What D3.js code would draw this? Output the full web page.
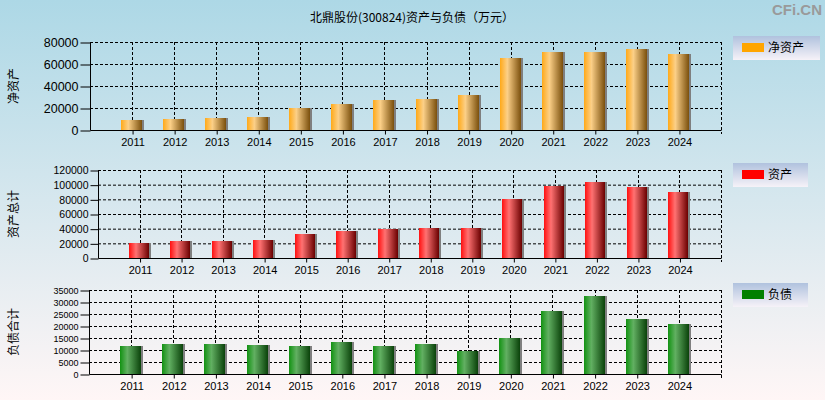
<!DOCTYPE html>
<html><head><meta charset="utf-8">
<script src="https://cdn.jsdelivr.net/npm/d3@7"></script>
<style>html,body{margin:0;padding:0;}svg{display:block;}</style>
</head><body>
<script>
const years = ['2011','2012','2013','2014','2015','2016','2017','2018','2019','2020','2021','2022','2023','2024'];
const equity = [9200, 10100, 11000, 12000, 20200, 23900, 27500, 28400, 32000, 65400, 70900, 70900, 73600, 69100];
const assets = [20400, 23200, 23200, 24500, 32700, 36800, 39500, 40900, 40900, 80500, 98200, 103600, 96800, 90000];
const liabilities = [11800, 12600, 12600, 12200, 11800, 13400, 11800, 12600, 9700, 15100, 26300, 32500, 23000, 20900];
const ticks1 = [0, 20000, 40000, 60000, 80000];
const ticks2 = [0, 20000, 40000, 60000, 80000, 100000, 120000];
const ticks3 = [0, 5000, 10000, 15000, 20000, 25000, 30000, 35000];
const title = '北鼎股份(300824)资产与负债（万元）';

const W = 825, H = 400;
const svg = d3.select('body').append('svg').attr('width', W).attr('height', H);
const defs = svg.append('defs');
const bg = defs.append('linearGradient').attr('id','bg').attr('x1',0).attr('y1',0).attr('x2',0).attr('y2',1);
bg.append('stop').attr('offset','0%').attr('stop-color','#add8e6');
bg.append('stop').attr('offset','100%').attr('stop-color','#fff6f6');
const lg = defs.append('linearGradient').attr('id','lg').attr('x1',0).attr('y1',0).attr('x2',0).attr('y2',1);
lg.append('stop').attr('offset','0%').attr('stop-color','#b0c2de');
lg.append('stop').attr('offset','100%').attr('stop-color','#f6f2f8');

function barGrad(id, c0, c1, c2){
  const g = defs.append('linearGradient').attr('id', id).attr('x1',0).attr('y1',0).attr('x2',1).attr('y2',0);
  g.append('stop').attr('offset','0%').attr('stop-color', c0);
  g.append('stop').attr('offset','35%').attr('stop-color', c1);
  g.append('stop').attr('offset','100%').attr('stop-color', c2);
}
barGrad('gO', '#ffa918', '#fcd088', '#7a4f0c');
barGrad('gR', '#ff1010', '#ff7272', '#6a0000');
barGrad('gG', '#129212', '#62b062', '#0a420a');

svg.append('rect').attr('width', W).attr('height', H).attr('fill','url(#bg)');

const cjk = '"Noto Sans CJK SC", "Liberation Sans", sans-serif';
const num = '"Liberation Sans", Arial, sans-serif';

svg.append('text').attr('x', 412).attr('y', 22).attr('text-anchor','middle')
  .attr('font-family', cjk).attr('font-size', 12).attr('fill','#000').text(title);
svg.append('text').attr('x', 822).attr('y', 15).attr('text-anchor','end')
  .attr('font-family', num).attr('font-weight','bold').attr('font-size', 15).attr('fill','#9a9a9a').text('CFi.CN');

function panel(o){
  const g = svg.append('g');
  const x = d3.scalePoint().domain(years).range([o.left, o.right]).padding(1);
  const y = d3.scaleLinear().domain([0, o.ticks[o.ticks.length-1]]).range([o.bottom, o.top]);
  g.selectAll('.hg').data(o.ticks.slice(1)).enter().append('line')
    .attr('x1', o.left).attr('x2', o.right).attr('y1', d => y(d)+0.5).attr('y2', d => y(d)+0.5)
    .attr('stroke','#000').attr('stroke-dasharray','3,2');
  g.selectAll('.vg').data(years).enter().append('line')
    .attr('x1', d => Math.round(x(d))+0.5).attr('x2', d => Math.round(x(d))+0.5).attr('y1', o.top).attr('y2', o.bottom)
    .attr('stroke','#000').attr('stroke-dasharray','3,2');
  g.append('line').attr('x1', o.right+0.5).attr('x2', o.right+0.5).attr('y1', o.top).attr('y2', o.bottom+4)
    .attr('stroke','#000').attr('stroke-dasharray','3,2');
  const bw = o.bw;
  g.selectAll('.sh').data(o.values).enter().append('rect')
    .attr('x', (d,i) => Math.round(x(years[i])) - 11 + 2).attr('y', d => Math.round(y(d)))
    .attr('width', bw).attr('height', d => o.bottom - Math.round(y(d)))
    .attr('fill','#7f7f7f');
  g.selectAll('.br').data(o.values).enter().append('rect')
    .attr('x', (d,i) => Math.round(x(years[i])) - 11).attr('y', d => Math.round(y(d)))
    .attr('width', bw).attr('height', d => o.bottom - Math.round(y(d)))
    .attr('fill', o.fill);
  const ya = d3.axisLeft(y).tickValues(o.ticks).tickSize(o.tick).tickPadding(2).tickFormat(d3.format('d'));
  const yg = g.append('g').attr('transform', `translate(${o.left+0.5},0.5)`).call(ya);
  yg.select('.domain').attr('stroke','#000').attr('d', `M0,${o.top}V${o.bottom}`);
  yg.selectAll('line').attr('stroke','#000');
  yg.selectAll('text').attr('font-family', num).attr('font-size', o.yfs).attr('fill','#000');
  const xa = d3.axisBottom(x).tickSize(4).tickPadding(4);
  const xg = g.append('g').attr('transform', `translate(0.5,${o.bottom+0.5})`).call(xa);
  xg.select('.domain').attr('stroke','#000').attr('d', `M${o.left},0H${o.right}`);
  xg.selectAll('line').attr('stroke','#000');
  xg.selectAll('text').attr('font-family', num).attr('font-size', 11).attr('fill','#000');
  g.append('text').attr('transform', `translate(18,${(o.top+o.bottom)/2}) rotate(-90)`)
    .attr('text-anchor','middle').attr('font-family', cjk).attr('font-size', 12).attr('fill','#000').text(o.ytitle);
  g.append('rect').attr('x', 733).attr('y', o.ly).attr('width', o.lw).attr('height', 24).attr('fill','url(#lg)');
  g.append('rect').attr('x', 742).attr('y', o.ly+7).attr('width', 22).attr('height', 9).attr('fill', o.lc);
  g.append('text').attr('x', 768).attr('y', o.ly+16).attr('font-family', cjk).attr('font-size', 12).attr('fill','#000').text(o.lt);
}

panel({left:90, right:721, top:42, bottom:130, ticks:ticks1, values:equity, fill:'url(#gO)', bw:21, tick:10, yfs:12.5,
  ytitle:'净资产', ly:36, lw:87, lc:'#ffa500', lt:'净资产'});
panel({left:98, right:721, top:170, bottom:258, ticks:ticks2, values:assets, fill:'url(#gR)', bw:20, tick:8, yfs:10.5,
  ytitle:'资产总计', ly:163, lw:75, lc:'#ff0000', lt:'资产'});
panel({left:89, right:721, top:290, bottom:374, ticks:ticks3, values:liabilities, fill:'url(#gG)', bw:21, tick:9, yfs:9,
  ytitle:'负债合计', ly:283, lw:75, lc:'#008000', lt:'负债'});
</script>
</body></html>
